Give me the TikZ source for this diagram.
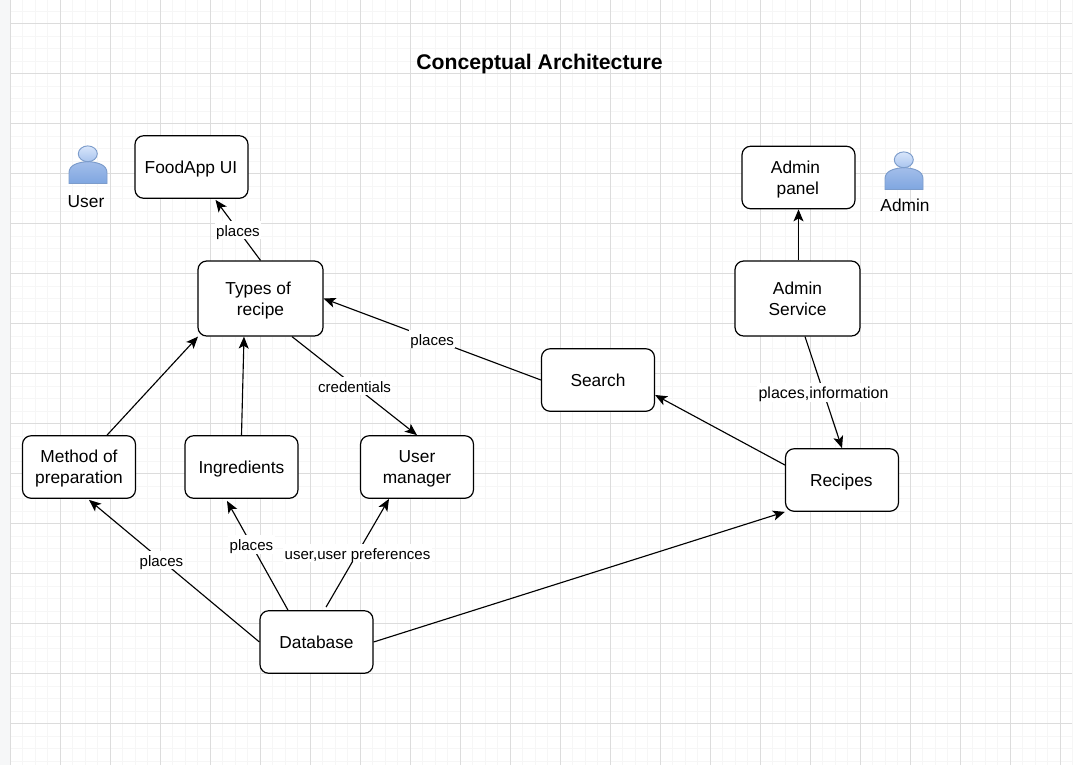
\documentclass[tikz,border=0pt]{standalone}
\usepackage{fontspec}
\setmainfont{Liberation Sans}
\usetikzlibrary{arrows.meta,calc}
\definecolor{majorgrid}{HTML}{DCDCDC}
\definecolor{minorgrid}{HTML}{F6F6F6}
\definecolor{sidebar}{HTML}{F6F7F8}
\definecolor{actorline}{HTML}{7C9CCB}
\definecolor{headtop}{HTML}{D8E6FB}
\definecolor{headbot}{HTML}{A9C4EE}
\definecolor{bodytop}{HTML}{A3BEEA}
\definecolor{bodybot}{HTML}{7FA6E0}
\newcommand{\ls}{\rule[-2pt]{0pt}{14.1pt}}
\tikzset{
  box/.style={draw=black,fill=white,rounded corners=6.5pt,line width=.9pt,align=center,inner sep=0pt,
    minimum width=84.75pt,minimum height=46.9pt,font=\fontsize{13}{15.75}\selectfont},
  bigbox/.style={box,minimum width=93.75pt,minimum height=56.25pt},
  conn/.style={draw=black,line width=.85pt,-{Stealth[length=9pt,width=7.5pt,inset=2.2pt]}},
  lbl/.style={fill=white,inner xsep=1pt,inner ysep=0pt,font=\fontsize{11.3}{13}\selectfont,text=black,
    execute at begin node={\rule[-2.2pt]{0pt}{13.6pt}}},
  txt/.style={inner sep=0pt,font=\fontsize{13}{16}\selectfont},
  headshape/.style={draw=actorline,line width=.7pt,top color=headtop,bottom color=headbot},
  bodyshape/.style={draw=actorline,line width=.7pt,top color=bodytop,bottom color=bodybot}
}
\begin{document}
\begin{tikzpicture}[x=.75pt,y=-.75pt]
\useasboundingbox (0,0) rectangle (1074,765);
\fill[white] (0,0) rectangle (1074,765);
\fill[sidebar] (0,0) rectangle (10,765);
% grid
\foreach \k in {0,...,85}{\draw[minorgrid,line width=.75pt] ({10.4+12.5*\k},0) -- ({10.4+12.5*\k},765);}
\foreach \k in {-1,...,61}{\draw[minorgrid,line width=.75pt] (10.4,{23.5+12.5*\k}) -- (1072,{23.5+12.5*\k});}
\foreach \k in {0,...,21}{\draw[majorgrid,line width=.75pt] ({10.4+50*\k},0) -- ({10.4+50*\k},765);}
\foreach \k in {0,...,14}{\draw[majorgrid,line width=.75pt] (10.4,{23.5+50*\k}) -- (1072,{23.5+50*\k});}
% title
\node[inner sep=0pt,font=\bfseries\fontsize{15.9}{18}\selectfont] (title) at (539.5,64) {Conceptual Architecture};
% boxes
\node[box] (foodapp) at (191.5,167) {\ls FoodApp UI\kern.8pt};
\node[box] (adminpanel) at (798.5,177.5) {\ls Admin\kern4.5pt\\\ls panel\kern1pt};
\node[bigbox] (types) at (260.5,298.5) {\ls Types of\kern3.5pt\\\ls recipe};
\node[bigbox] (adminservice) at (797.5,298.5) {\ls Admin\\\ls Service};
\node[box] (search) at (598,380) {\ls Search};
\node[box] (method) at (79,467) {\ls Method of\\\ls preparation};
\node[box] (ingredients) at (241.5,467) {\ls Ingredients};
\node[box] (usermanager) at (417,467) {\ls User\\\ls manager};
\node[box] (recipes) at (842,480) {\ls Recipes\kern1pt};
\node[box] (database) at (316.5,642) {\ls Database};
% actors
\begin{scope}[shift={(69,146)}]
  \path[bodyshape] (0,37.5) -- (0,27) .. controls (0,19) and (8,16.5) .. (19,15.5) .. controls (30,16.5) and (38,19) .. (38,27) -- (38,37.5) -- cycle;
  \path[headshape] (18.8,7.8) ellipse [x radius=9.5,y radius=7.9];
\end{scope}
\begin{scope}[shift={(885,152)}]
  \path[bodyshape] (0,37.5) -- (0,27) .. controls (0,19) and (8,16.5) .. (19,15.5) .. controls (30,16.5) and (38,19) .. (38,27) -- (38,37.5) -- cycle;
  \path[headshape] (18.8,7.8) ellipse [x radius=9.5,y radius=7.9];
\end{scope}
\node[txt] (userlbl) at (86,201.5) {User};
\node[txt] (adminlbl) at (905,205.5) {Admin};
% connectors
\draw[conn] (types.north) -- node[lbl,pos=.5] (l1) {places} ($(foodapp.south)+(24,1)$);
\draw[conn] ($(adminservice.north)+(1,0)$) -- (adminpanel.south);
\draw[conn] (search.west) -- node[lbl,pos=.5] (l2) {places} (types.east);
\draw[conn] ($(adminservice.south)+(7.5,0)$) -- node[lbl,pos=.5,font=\fontsize{12}{13}\selectfont] (l3) {places,information} (recipes.north);
\draw[conn] ($(recipes.west)+(0,-15)$) -- ($(search.east)+(0,15)$);
\draw[conn] ($(types.south)+(31.5,0)$) -- node[lbl,pos=.5] (l4) {credentials} (usermanager.north);
\draw[conn] (ingredients.north) -- ($(types.south)+(-16.5,0)$);
\draw[conn] ($(method.north)+(28,0)$) -- ($(types.south)+(-62.5,0)$);
\draw[conn] (database.west) -- node[lbl,pos=.575] (l5) {places} ($(method.south)+(10,1)$);
\draw[conn] ($(database.north)+(-28.5,0)$) -- node[lbl,pos=.6] (l6) {places} ($(ingredients.south)+(-14.5,2)$);
\draw[conn] ($(database.north)+(9.5,-3)$) -- node[lbl,pos=.5] (l7) {user,user preferences} ($(usermanager.south)+(-28,0)$);
\draw[conn] (database.east) -- (recipes.south west);
\end{tikzpicture}
\end{document}
